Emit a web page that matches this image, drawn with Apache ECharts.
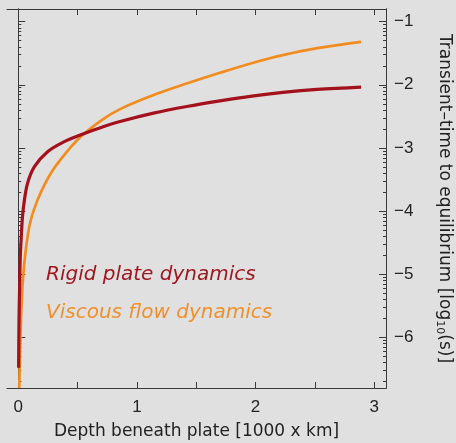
<!DOCTYPE html>
<html>
<head>
<meta charset="utf-8">
<script src="https://cdn.jsdelivr.net/npm/echarts@6/dist/echarts.min.js"></script>
<style>
  html, body { margin: 0; padding: 0; background: #e0e0e0; }
  #chart { width: 456px; height: 443px; }
</style>
</head>
<body>
<div id="chart"></div>
<script>
// depth [1000 km] and log10 transient time
var rigidX = [0.003, 0.006, 0.011, 0.017, 0.027, 0.036, 0.05, 0.078, 0.135, 0.247, 0.388, 0.528, 0.71, 0.859, 1.14, 1.42, 1.70, 1.97, 2.23, 2.52, 2.89];
var rigidY = [-6.48, -5.77, -5.24, -4.72, -4.35, -4.08, -3.85, -3.56, -3.30, -3.06, -2.90, -2.79, -2.667, -2.58, -2.448, -2.343, -2.254, -2.178, -2.12, -2.073, -2.036];
var viscousX = [0.008, 0.014, 0.022, 0.034, 0.045, 0.058, 0.075, 0.098, 0.135, 0.191, 0.275, 0.388, 0.528, 0.71, 0.859, 1.14, 1.42, 1.70, 1.982, 2.23, 2.52, 2.89];
var viscousY = [-6.8, -6.3, -5.77, -5.24, -4.95, -4.70, -4.45, -4.2, -3.96, -3.70, -3.40, -3.11, -2.82, -2.55, -2.385, -2.163, -1.98, -1.81, -1.65, -1.53, -1.42, -1.32];

var xTicks = [0, 0.5, 1, 1.5, 2, 2.5, 3];
var xLabels = [0, 1, 2, 3];
var yMajor = [-6, -5, -4, -3, -2, -1];
var minorSteps = [2, 3, 4, 5, 6, 7, 8, 9];

// log minor ticks inside each decade
var yMinor = [];
[-7, -6, -5, -4, -3, -2].forEach(function (d) {
  minorSteps.forEach(function (k) {
    var v = d + Math.log10(k);
    if (v > -6.8 && v < -0.8) yMinor.push(v);
  });
});

function zip(a, b) {
  return a.map(function (v, i) { return [v, b[i]]; });
}

var axisColor = '#3a3a3a';
var numFont = 'Liberation Sans, Arial, sans-serif';
var nameFont = 'DejaVu Sans, sans-serif';

function fmt(v) {
  return v < 0 ? '\u2212' + Math.abs(v) : String(v);
}

function yAx(pos, ticks, len, opts) {
  var a = {
    type: 'value',
    position: pos,
    min: -6.8,
    max: -0.8,
    splitLine: { show: false },
    axisLine: { show: true, lineStyle: { color: axisColor, width: 1 } },
    axisTick: { show: true, inside: true, length: len, customValues: ticks, lineStyle: { color: axisColor } },
    axisLabel: { show: false }
  };
  return Object.assign(a, opts || {});
}

var chart = echarts.init(document.getElementById('chart'));
chart.setOption({
  backgroundColor: '#e0e0e0',
  animation: false,
  grid: { left: 7, right: 70, top: 9, bottom: 55, containLabel: false, outerBoundsMode: 'none' },
  xAxis: [
    {
      type: 'value',
      position: 'bottom',
      min: -0.095,
      max: 3.1,
      name: 'Depth beneath plate [1000 x km]',
      nameLocation: 'middle',
      nameGap: 35,
      nameTextStyle: { color: '#222', fontFamily: nameFont, fontSize: 17 },
      splitLine: { show: false },
      axisLine: { show: true, lineStyle: { color: axisColor } },
      axisTick: { show: true, inside: true, length: 6, customValues: xTicks, lineStyle: { color: axisColor } },
      axisLabel: { show: true, customValues: xLabels, color: '#222', fontFamily: numFont, fontSize: 17, margin: 11 }
    },
    {
      type: 'value',
      position: 'top',
      min: -0.095,
      max: 3.1,
      splitLine: { show: false },
      axisLine: { show: true, lineStyle: { color: axisColor } },
      axisTick: { show: true, inside: true, length: 6, customValues: xTicks, lineStyle: { color: axisColor } },
      axisLabel: { show: false }
    }
  ],
  yAxis: [
    yAx('left', yMajor, 7),
    yAx('left', yMinor, 3),
    yAx('right', yMajor, 7, {
      axisLabel: { show: true, customValues: yMajor, formatter: fmt, color: '#222', fontFamily: numFont, fontSize: 17, margin: 8 },
      name: '{a|Transient\u2013time to equilibrium [log}{s|10}{a|(s)]}',
      nameLocation: 'middle',
      nameRotate: -90,
      nameGap: 48,
      nameTextStyle: {
        rich: {
          a: { color: '#222', fontFamily: nameFont, fontSize: 17 },
          s: { color: '#222', fontFamily: nameFont, fontSize: 11, padding: [10, 0, 0, 0] }
        }
      }
    }),
    yAx('right', yMinor, 3)
  ],
  series: [
    {
      name: 'Viscous flow dynamics',
      type: 'line',
      data: zip(viscousX, viscousY),
      smooth: 0.35,
      symbol: 'none',
      clip: true,
      lineStyle: { color: '#f28c1e', width: 2.7 }
    },
    {
      name: 'Rigid plate dynamics',
      type: 'line',
      data: zip(rigidX, rigidY),
      smooth: 0.35,
      symbol: 'none',
      clip: true,
      lineStyle: { color: '#a3111c', width: 3.2 }
    }
  ],
  graphic: [
    {
      type: 'text',
      x: 46, y: 275,
      style: { text: 'Rigid plate dynamics', fill: '#9e1820', font: 'italic 20px "DejaVu Sans", sans-serif', verticalAlign: 'middle' }
    },
    {
      type: 'text',
      x: 46, y: 313,
      style: { text: 'Viscous flow dynamics', fill: '#f0902c', font: 'italic 20px "DejaVu Sans", sans-serif', verticalAlign: 'middle' }
    }
  ]
});
</script>
</body>
</html>
